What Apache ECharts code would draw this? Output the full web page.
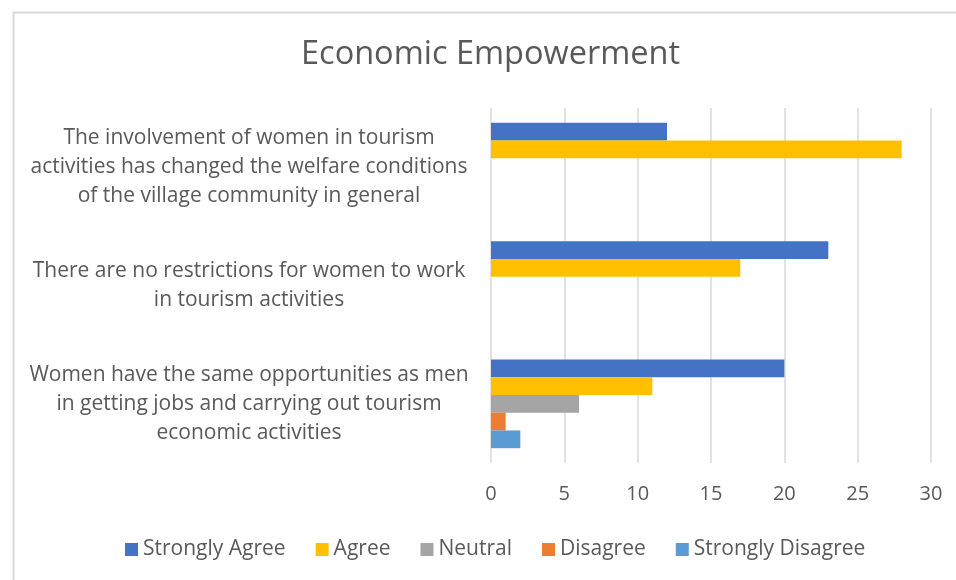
<!DOCTYPE html>
<html><head><meta charset="utf-8">
<script src="https://cdn.jsdelivr.net/npm/echarts@6/dist/echarts.min.js"></script>
<style>html,body{margin:0;padding:0;background:#fff}#c{width:956px;height:580px}</style>
</head><body><div id="c"></div>
<script>
const categories = [
  "The involvement of women in tourism\nactivities has changed the welfare conditions\nof the village community in general",
  "There are no restrictions for women to work\nin tourism activities",
  "Women have the same opportunities as men\nin getting jobs and carrying out tourism\neconomic activities"
];
const seriesNames = ["Strongly Agree", "Agree", "Neutral", "Disagree", "Strongly Disagree"];
const stronglyAgree = [12, 23, 20];
const agree = [28, 17, 11];
const neutral = [null, null, 6];
const disagree = [null, null, 1];
const stronglyDisagree = [null, null, 2];
const xTicks = [0, 5, 10, 15, 20, 25, 30];

const colors = ["#4472C4", "#FFC000", "#A5A5A5", "#ED7D31", "#5B9BD5"];
const values = [stronglyAgree, agree, neutral, disagree, stronglyDisagree];
const font = "'Open Sans', sans-serif";

const chart = echarts.init(document.getElementById('c'));
chart.setOption({
  animation: false,
  color: colors,
  graphic: [{
    type: 'rect', left: 11, top: 10, shape: { width: 960, height: 580 },
    style: { fill: 'none', stroke: '#d9d9d9', lineWidth: 2 }, silent: true
  }],
  title: {
    text: "Economic Empowerment", left: 296, top: 33,
    textStyle: { fontFamily: font, fontSize: 32.5, fontWeight: 'normal', color: '#595959' }
  },
  legend: {
    bottom: 15, left: 120, itemWidth: 13, itemHeight: 13, itemGap: 30,
    icon: 'rect',
    textStyle: { fontFamily: font, fontSize: 21, color: '#595959' },
    data: seriesNames
  },
  grid: { left: 491, right: 25, top: 108, bottom: 117 },
  xAxis: {
    type: 'value', min: xTicks[0], max: xTicks[xTicks.length - 1], interval: 5,
    axisLine: { show: false }, axisTick: { show: false },
    splitLine: { lineStyle: { color: '#d9d9d9', width: 1.5 } },
    axisLabel: { fontFamily: font, fontSize: 20, color: '#595959', margin: 21 }
  },
  yAxis: {
    type: 'category', data: categories, inverse: true,
    axisLine: { show: false }, axisTick: { show: false },
    axisLabel: { fontFamily: font, fontSize: 21, color: '#595959', align: 'center', margin: 242, lineHeight: 29 }
  },
  series: seriesNames.map((n, i) => ({
    name: n, type: 'bar', data: values[i],
    barGap: '0%', barCategoryGap: '25%'
  }))
});
</script></body></html>
